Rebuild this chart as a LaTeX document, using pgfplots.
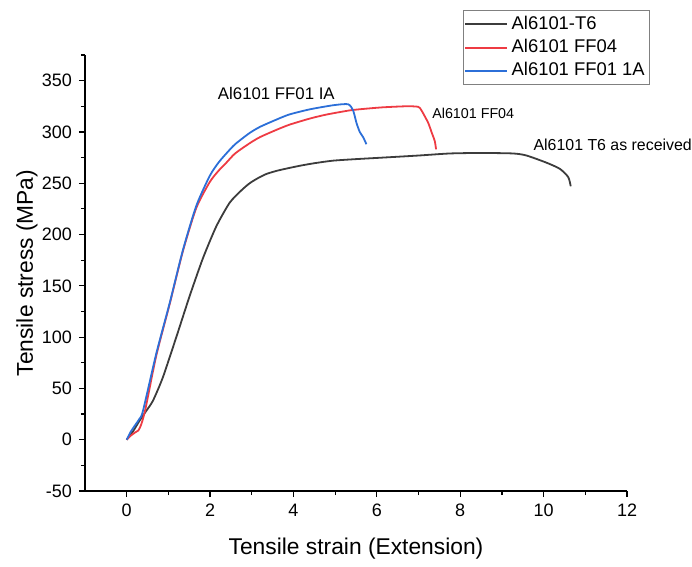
\documentclass[border=0pt]{standalone}
\usepackage{fontspec}
\setmainfont{Liberation Sans}
\usepackage{pgfplots}
\pgfplotsset{compat=1.18}
\definecolor{cblack}{HTML}{3C3C3C}
\definecolor{cred}{HTML}{EE3B43}
\definecolor{cblue}{HTML}{2C6FD8}
\begin{document}
\begin{tikzpicture}
\begin{axis}[
  scale only axis, width=271pt, height=218pt,
  xmin=-1, xmax=12, ymin=-50, ymax=375,
  axis x line*=bottom, axis y line*=left,
  xtick={0,2,...,12}, minor xtick={1,3,...,11},
  ytick={-50,0,...,350}, minor ytick={-25,25,...,375},
  tick align=outside, major tick length=3pt, minor tick length=2pt,
  every tick/.style={black, line width=0.6pt},
  axis line style={line width=0.75pt, black},
  /pgf/number format/assume math mode=true,
  tick label style={font=\fontsize{9}{10}\selectfont},
  xlabel={Tensile strain (Extension)}, ylabel={Tensile stress (MPa)},
  label style={font=\fontsize{11.4}{13}\selectfont},
  xlabel style={at={(rel axis cs:0.5,-0.133)}, anchor=center},
  ylabel style={at={(rel axis cs:-0.107,0.5)}, anchor=center},
  clip=false,
  legend style={at={(0.697,1.103)}, anchor=north west, draw=gray, line width=0.5pt,
    font=\fontsize{9.2}{10}\selectfont, inner xsep=0.5pt, inner ysep=1pt,
    nodes={text height=6.5pt, text depth=1.6pt, inner sep=1.8pt}},
  legend cell align=left,
  legend image code/.code={\draw[#1] (0pt,0pt) -- (21pt,0pt);},
]
\addplot[cblack, line width=0.9pt, smooth, tension=0.4] coordinates {
(0,0) (0.15,8) (0.3,18) (0.45,27) (0.63,38) (0.87,61) (1.19,100) (1.51,140)
(1.83,177) (2.15,208) (2.47,231) (2.75,243) (2.95,250)
(3.15,255) (3.35,259) (3.59,262) (3.8,264) (4.15,267) (4.5,269.5) (4.95,272)
(5.5,273.5) (6.15,275) (7.0,277) (7.75,279) (8.5,279.5) (9.27,279) (9.59,277)
(10.07,270) (10.39,264) (10.59,256) (10.65,247)
};
\addlegendentry{Al6101-T6}
\addplot[cred, line width=0.9pt, smooth, tension=0.4] coordinates {
(0,0) (0.1,4) (0.2,7) (0.28,9) (0.35,15) (0.45,30) (0.71,82) (1.03,132)
(1.35,184) (1.67,226) (1.99,251) (2.2,262) (2.39,270) (2.6,279) (2.95,289)
(3.2,295) (3.59,302) (3.9,307) (4.39,313) (4.8,317) (5.35,321) (5.7,322.5)
(6.15,324) (6.7,325) (6.99,324.5) (7.07,321) (7.23,309) (7.31,300) (7.39,291) (7.42,283)
};
\addlegendentry{Al6101 FF04}
\addplot[cblue, line width=0.9pt, smooth, tension=0.4] coordinates {
(0,0) (0.1,8) (0.2,14) (0.3,20) (0.39,28) (0.71,84) (1.03,133) (1.35,185)
(1.67,228) (1.99,257) (2.2,270) (2.39,279) (2.6,288) (2.95,299) (3.2,305)
(3.59,312) (3.9,317) (4.39,322) (4.95,326) (5.31,327) (5.43,321) (5.51,309)
(5.59,300) (5.67,295) (5.75,288)
};
\addlegendentry{Al6101 FF01 1A}
\node[anchor=west, inner sep=0pt, font=\fontsize{8.4}{10}\selectfont] at (axis cs:2.18,337) {Al6101 FF01 IA};
\node[anchor=west, inner sep=0pt, font=\fontsize{7.15}{9}\selectfont] at (axis cs:7.32,318) {Al6101 FF04};
\node[anchor=west, inner sep=0pt, font=\fontsize{7.95}{9}\selectfont] at (axis cs:9.75,287) {Al6101 T6 as received};
\path (rel axis cs:-0.1568,-0.1606) rectangle (rel axis cs:1.1199,1.1261);
\end{axis}
\end{tikzpicture}
\end{document}
